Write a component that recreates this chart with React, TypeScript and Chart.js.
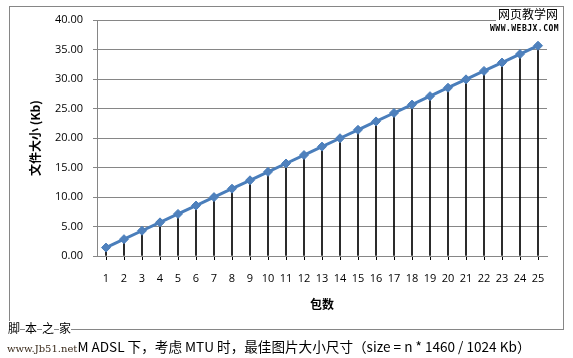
import { useEffect, useRef } from "react";
import { Chart, registerables } from "chart.js";
Chart.register(...registerables);

const categories = ["1","2","3","4","5","6","7","8","9","10","11","12","13","14","15","16","17","18","19","20","21","22","23","24","25"];
const sizeKb = [1.43, 2.85, 4.28, 5.70, 7.13, 8.55, 9.98, 11.41, 12.83, 14.26, 15.68, 17.11, 18.54, 19.96, 21.39, 22.81, 24.24, 25.66, 27.09, 28.52, 29.94, 31.37, 32.79, 34.22, 35.64];
const yMin = 0;
const yMax = 40;
const yStep = 5;
const xTitle = "包数";
const yTitle = "文件大小 (Kb)";
const caption = "M ADSL 下，考虑 MTU 时，最佳图片大小尺寸（size = n * 1460 / 1024 Kb）";

export default function App() {
  const ref = useRef<HTMLCanvasElement>(null);
  useEffect(() => {
    document.body.style.margin = "0";
    const tickFont = { family: "'Open Sans', 'Noto Sans', sans-serif", size: 11 };
    const titleFont = { family: "'Noto Sans CJK SC', sans-serif", size: 12, weight: "bold" as const };
    const chart = new Chart(ref.current!, {
      type: "line",
      data: {
        labels: categories,
        datasets: [
          {
            type: "line",
            data: sizeKb,
            borderColor: "#4A7EBB",
            borderWidth: 3,
            pointStyle: "rectRot",
            pointRadius: 4.5,
            pointBackgroundColor: "#4F81BD",
            pointBorderColor: "#4A7EBB",
            pointBorderWidth: 1,
            order: 0,
          } as any,
          {
            type: "bar",
            data: sizeKb,
            backgroundColor: "#000",
            barThickness: 1,
            order: 1,
          } as any,
        ],
      },
      options: {
        animation: false,
        responsive: false,
        layout: { padding: { left: 0, top: 20, right: 26, bottom: 46 } },
        plugins: { legend: { display: false }, tooltip: { enabled: false } },
        scales: {
          x: {
            type: "category",
            offset: true,
            grid: { offset: false, drawOnChartArea: false, drawTicks: true, tickLength: 4, color: "#000" },
            border: { color: "#868686", width: 1 },
            ticks: { color: "#000", font: tickFont, padding: 12, maxRotation: 0, autoSkip: false },
            title: { display: true, text: xTitle, color: "#000", font: titleFont, padding: { top: 0, bottom: 0 } },
            afterFit: (s: any) => { s.height = 56; },
          },
          y: {
            min: yMin,
            max: yMax,
            grid: { color: "#868686", tickLength: 4 },
            border: { color: "#868686", width: 1 },
            ticks: { stepSize: yStep, color: "#000", font: tickFont, padding: 10, callback: (v: any) => Number(v).toFixed(2) },
            title: { display: true, text: yTitle, color: "#000", font: titleFont, padding: { top: 28, bottom: 0 } },
            afterFit: (s: any) => { s.width = 97; },
          },
        },
      },
    });
    return () => chart.destroy();
  }, []);

  const cjk = "'Noto Sans CJK SC', sans-serif";
  return (
    <div style={{ position: "relative", width: 573, height: 358, background: "#fff", overflow: "hidden" }}>
      <div style={{ position: "absolute", left: 9, top: 6, width: 555, height: 324, boxSizing: "border-box", border: "1px solid #868686" }} />
      <canvas ref={ref} width={573} height={358} style={{ position: "absolute", left: 0, top: 0, width: 573, height: 358 }} />
      <div style={{ position: "absolute", left: 496, top: 7, fontFamily: cjk, fontSize: 12, lineHeight: "14px", color: "#000", background: "#fff", padding: "0 2px" }}>网页教学网</div>
      <div style={{ position: "absolute", left: 490, top: 24, fontFamily: "'DejaVu Sans Mono', monospace", fontWeight: "bold", fontSize: 8, lineHeight: "9px", letterSpacing: 0.5, color: "#000", background: "#fff" }}>WWW.WEBJX.COM</div>
      <div style={{ position: "absolute", left: 8, top: 321, fontFamily: cjk, fontSize: 12, lineHeight: "14px", color: "#000", display: "flex", gap: 5 }}>
        {["脚", "本", "之", "家"].map((c) => (
          <span key={c} style={{ background: "#fff" }}>{c}</span>
        ))}
      </div>
      <div style={{ position: "absolute", left: 7, top: 338, whiteSpace: "nowrap", lineHeight: "16px", color: "#000" }}>
        <span style={{ fontFamily: "'DejaVu Serif', serif", fontSize: 10, color: "#3a2a1a" }}>www.Jb51.net</span>
        <span style={{ fontFamily: cjk, fontSize: 13.6 }}>{caption}</span>
      </div>
    </div>
  );
}
